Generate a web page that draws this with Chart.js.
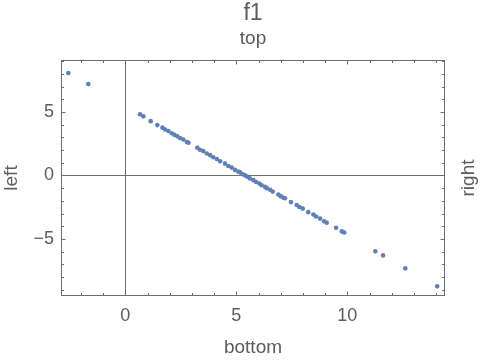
<!DOCTYPE html>
<html>
<head>
<meta charset="utf-8">
<script src="https://cdn.jsdelivr.net/npm/chart.js@4.4.0/dist/chart.umd.min.js"></script>
<style>
  html, body { margin: 0; padding: 0; background: #fff; }
  #wrap { width: 482px; height: 361px; }
</style>
</head>
<body>
<div id="wrap"><canvas id="Chart"></canvas></div>
<script>
var titleText = "f1";
var topLabel = "top";
var bottomLabel = "bottom";
var leftLabel = "left";
var rightLabel = "right";

var xValues = [-2.57, -1.67, 0.66, 0.81, 1.14, 1.44, 1.67, 1.79, 1.94, 2.09, 2.21, 2.34, 2.46, 2.61, 2.77, 2.84,
  3.24, 3.36, 3.51, 3.67, 3.82, 3.96, 4.12, 4.27, 4.49, 4.64, 4.79, 4.94, 5.09, 5.17, 5.29, 5.39, 5.49, 5.61,
  5.77, 5.89, 6.04, 6.14, 6.29, 6.37, 6.52, 6.64, 6.89, 7.0, 7.12, 7.19, 7.46, 7.72, 7.84, 7.99, 8.24, 8.47,
  8.59, 8.77, 8.95, 9.07, 9.49, 9.75, 9.86, 11.26, 11.61, 12.61, 14.05];
var yValues = [8.07, 7.2, 4.83, 4.66, 4.28, 3.97, 3.77, 3.62, 3.5, 3.33, 3.2, 3.09, 2.95, 2.83, 2.64, 2.58,
  2.19, 2.03, 1.92, 1.73, 1.6, 1.43, 1.3, 1.12, 0.93, 0.75, 0.62, 0.44, 0.3, 0.24, 0.1, 0.01, -0.09, -0.23,
  -0.37, -0.52, -0.64, -0.77, -0.89, -1.0, -1.13, -1.27, -1.5, -1.63, -1.76, -1.8, -2.1, -2.33, -2.49, -2.61,
  -2.89, -3.08, -3.24, -3.4, -3.61, -3.72, -4.12, -4.41, -4.49, -5.98, -6.3, -7.32, -8.74];

var xTickValues = [0, 5, 10];
var yTickValues = [-5, 0, 5];

var textColor = "#5c5c5c";
var frameColor = "#6e6e6e";
var pointColor = "#5e81b5";
var oddPointColor = "#9a64b4";
var oddPointIndex = 60;
var fontFamily = "Liberation Sans";

function minusFormat(v) {
  return v < 0 ? "\u2212" + Math.abs(v) : String(v);
}

var framePlugin = {
  id: "frame",
  beforeDatasetsDraw: function (chart) {
    var ctx = chart.ctx;
    var a = chart.chartArea;
    var xs = chart.scales.x;
    var ys = chart.scales.y;
    ctx.save();
    ctx.strokeStyle = frameColor;
    ctx.lineWidth = 1;
    ctx.beginPath();
    // axes through zero
    var x0 = Math.round(xs.getPixelForValue(0)) + 0.5;
    var y0 = Math.round(ys.getPixelForValue(0)) + 0.5;
    ctx.moveTo(x0, a.top);
    ctx.lineTo(x0, a.bottom);
    ctx.moveTo(a.left, y0);
    ctx.lineTo(a.right, y0);
    // frame ticks, major every 5, minor every 1
    var L = Math.round(a.left) + 0.5, R = Math.round(a.right) - 0.5;
    var T = Math.round(a.top) + 0.5, B = Math.round(a.bottom) - 0.5;
    for (var v = Math.ceil(xs.min); v <= Math.floor(xs.max); v++) {
      var len = v % 5 === 0 ? 4 : 2.5;
      var px = Math.round(xs.getPixelForValue(v)) + 0.5;
      ctx.moveTo(px, B);
      ctx.lineTo(px, B - len);
      ctx.moveTo(px, T);
      ctx.lineTo(px, T + len);
    }
    for (var w = Math.ceil(ys.min); w <= Math.floor(ys.max); w++) {
      var len2 = w % 5 === 0 ? 4 : 2.5;
      var py = Math.round(ys.getPixelForValue(w)) + 0.5;
      ctx.moveTo(L, py);
      ctx.lineTo(L + len2, py);
      ctx.moveTo(R, py);
      ctx.lineTo(R - len2, py);
    }
    ctx.stroke();
    ctx.strokeRect(L, T, R - L, B - T);
    ctx.restore();
  },
  afterDraw: function (chart) {
    var ctx = chart.ctx;
    var a = chart.chartArea;
    ctx.save();
    ctx.fillStyle = textColor;
    ctx.font = "19px " + fontFamily;
    ctx.textAlign = "center";
    ctx.textBaseline = "middle";
    ctx.translate(a.right + 24, (a.top + a.bottom) / 2);
    ctx.rotate(-Math.PI / 2);
    ctx.fillText(rightLabel, 0, 0);
    ctx.restore();
  },
};

function initializeChart() {
  var ctx = document.getElementById("Chart").getContext("2d");
  if (window.myChart) window.myChart.destroy();

  var points = xValues.map(function (x, i) {
    return { x: x, y: yValues[i] };
  });
  var colors = xValues.map(function (x, i) {
    return i === oddPointIndex ? oddPointColor : pointColor;
  });

  window.myChart = new Chart(ctx, {
    type: "scatter",
    data: {
      datasets: [
        {
          label: titleText,
          data: points,
          pointBackgroundColor: colors,
          pointBorderWidth: 0,
          pointRadius: 2.3,
        },
      ],
    },
    options: {
      animation: false,
      responsive: true,
      maintainAspectRatio: false,
      events: [],
      layout: { padding: { right: 37 } },
      scales: {
        x: {
          type: "linear",
          min: -2.9,
          max: 14.4,
          afterBuildTicks: function (scale) {
            scale.ticks = xTickValues.map(function (v) { return { value: v }; });
          },
          afterFit: function (scale) { scale.height = 65; },
          grid: { display: false, drawTicks: false },
          border: { display: false },
          ticks: {
            padding: 9,
            color: textColor,
            font: { size: 18, family: fontFamily },
            callback: minusFormat,
          },
          title: {
            display: true,
            text: bottomLabel,
            color: textColor,
            padding: { top: 0, bottom: 2 },
            font: { size: 19, family: fontFamily },
          },
        },
        y: {
          type: "linear",
          min: -9.5,
          max: 9.1,
          afterBuildTicks: function (scale) {
            scale.ticks = yTickValues.map(function (v) { return { value: v }; });
          },
          afterFit: function (scale) { scale.width = 61; },
          grid: { display: false, drawTicks: false },
          border: { display: false },
          ticks: {
            padding: 7,
            color: textColor,
            font: { size: 18, family: fontFamily },
            callback: minusFormat,
          },
          title: {
            display: true,
            text: leftLabel,
            color: textColor,
            padding: { top: 0, bottom: 0 },
            font: { size: 19, family: fontFamily },
          },
        },
      },
      plugins: {
        legend: { display: false },
        tooltip: { enabled: false },
        title: {
          display: true,
          fullSize: false,
          text: titleText,
          color: textColor,
          padding: { top: 0, bottom: 0 },
          font: { size: 23, family: fontFamily, weight: "normal" },
        },
        subtitle: {
          display: true,
          fullSize: false,
          text: topLabel,
          color: textColor,
          padding: { top: 0, bottom: 9.6 },
          font: { size: 19, family: fontFamily },
        },
      },
    },
    plugins: [framePlugin],
  });
}

window.onload = function () {
  initializeChart();
};
</script>
</body>
</html>
